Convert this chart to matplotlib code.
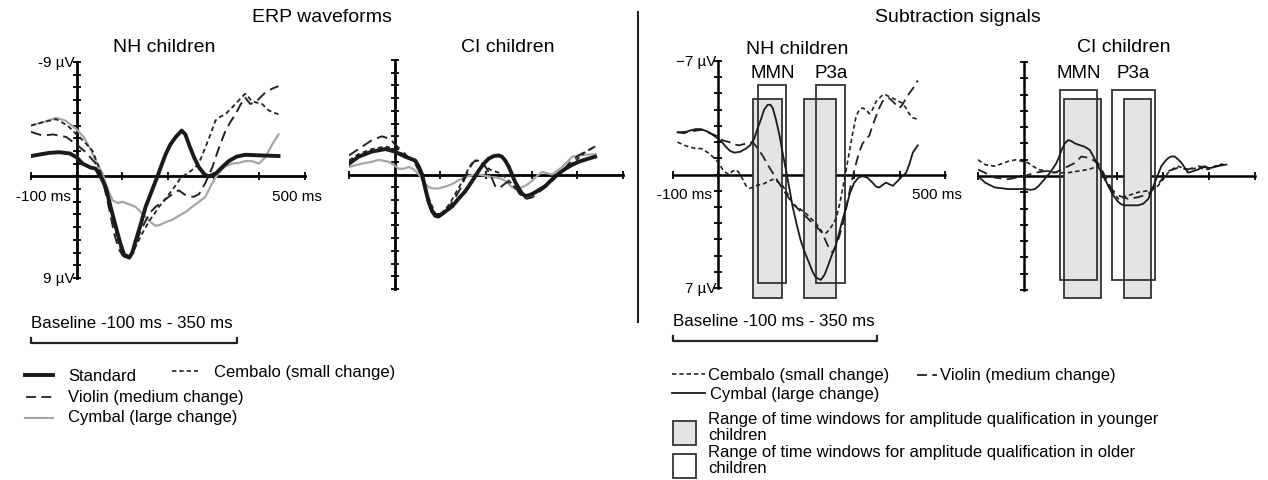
import matplotlib.pyplot as plt
from matplotlib.patches import Rectangle
from matplotlib.transforms import blended_transform_factory

plt.rcParams['font.family'] = ['Liberation Sans', 'DejaVu Sans']

# ---------------- data: time in ms, amplitude in µV (negative plotted up) ----------------
# ERP waveforms, NH children
nh_std_t = [-100, -60, -38, -15, 0, 13, 30, 42, 55, 64, 75, 86, 95, 104, 115, 122, 129, 140, 151, 165,
            177, 186, 195, 205, 217, 230, 238, 246, 257, 268, 280, 289, 304, 318, 333, 350, 369, 400, 442]
nh_std_v = [-1.6, -1.85, -1.9, -1.8, -1.5, -1.0, -0.7, -0.6, 0.2, 0.9, 2.5, 4.0, 5.2, 6.2, 6.4, 6.0, 5.1, 3.8,
            2.4, 1.1, 0.0, -0.9, -1.75, -2.5, -3.1, -3.6, -3.3, -2.5, -1.5, -0.7, -0.15, 0.0, -0.2, -0.7,
            -1.2, -1.55, -1.7, -1.65, -1.6]
nh_vio_t = [-100, -74, -52, -23, 0, 20, 42, 55, 64, 75, 82, 92, 100, 111, 120, 129, 140, 151, 162, 173, 187,
            202, 213, 224, 235, 246, 257, 268, 282, 297, 311, 326, 337, 348, 358, 369, 380, 390, 399, 413,
            428, 442]
nh_vio_v = [-3.5, -3.2, -3.3, -3.1, -2.5, -1.9, -1.0, 0.0, 1.4, 3.2, 4.5, 5.7, 6.2, 6.5, 6.1, 5.3, 4.3, 3.5,
            2.8, 2.4, 2.0, 1.6, 1.3, 1.1, 1.4, 1.6, 1.6, 1.4, 0.5, -0.7, -2.2, -3.6, -4.3, -4.9, -5.6, -6.2,
            -5.7, -5.8, -6.1, -6.6, -6.9, -7.1]
nh_cem_t = [-100, -70, -45, -20, 0, 20, 35, 50, 64, 75, 86, 97, 104, 119, 131, 142, 159, 173, 180, 190, 202,
            215, 228, 245, 260, 272, 282, 293, 304, 315, 326, 337, 348, 358, 369, 377, 384, 395, 406, 420,
            432, 442]
nh_cem_v = [-4.0, -4.3, -4.5, -4.0, -3.3, -2.6, -2.0, -0.6, 0.9, 2.6, 4.4, 5.8, 6.1, 6.3, 5.4, 4.6, 3.5,
            2.8, 2.4, 2.0, 1.4, 0.8, 0.1, -0.3, -0.7, -1.4, -2.3, -3.3, -4.4, -4.7, -4.9, -5.3, -5.7, -6.1,
            -6.5, -6.2, -5.9, -5.8, -5.7, -5.2, -5.0, -4.9]
nh_cym_t = [-100, -70, -45, -25, 0, 15, 28, 42, 57, 68, 79, 90, 100, 115, 129, 140, 151, 162, 173, 184, 195,
            210, 224, 239, 253, 268, 282, 293, 304, 315, 326, 340, 355, 369, 384, 399, 413, 428, 442]
nh_cym_v = [-4.0, -4.3, -4.6, -4.4, -3.7, -3.1, -2.3, -1.2, -0.2, 1.0, 1.9, 2.1, 2.0, 2.2, 2.4, 2.8, 3.2,
            3.6, 3.9, 3.8, 3.6, 3.4, 3.1, 2.8, 2.4, 2.0, 1.6, 0.8, 0.1, -0.4, -0.8, -1.0, -1.05, -1.2, -1.2,
            -1.0, -1.5, -2.5, -3.3]

# ERP waveforms, CI children
ci_std_t = [-100, -79, -50, -20, 0, 23, 45, 53, 60, 67, 74, 82, 89, 96, 104, 115, 126, 140, 155, 170, 184,
            195, 206, 217, 228, 235, 242, 250, 257, 264, 272, 279, 286, 297, 308, 319, 330, 340, 350, 362,
            374, 388, 403, 420, 439]
ci_std_v = [-0.85, -1.4, -1.8, -2.0, -1.8, -1.4, -1.1, -0.6, 0.0, 1.1, 2.1, 2.9, 3.25, 3.3, 3.1, 2.8, 2.5,
            1.9, 1.3, 0.5, -0.3, -0.85, -1.25, -1.45, -1.5, -1.4, -1.1, -0.6, 0.0, 0.6, 1.1, 1.5, 1.7, 1.6,
            1.4, 1.15, 0.9, 0.55, 0.2, -0.15, -0.45, -0.75, -1.0, -1.2, -1.4]
ci_vio_t = [-100, -79, -50, -28, -10, 0, 23, 45, 60, 67, 74, 89, 100, 111, 122, 133, 144, 155, 164, 173,
            182, 191, 199, 206, 213, 220, 228, 235, 246, 257, 268, 279, 290, 301, 315, 330, 345, 359, 374,
            388, 403, 418, 429, 439]
ci_vio_v = [-1.5, -2.0, -2.7, -3.0, -2.8, -2.4, -1.6, -0.85, 0.2, 1.3, 2.3, 3.1, 3.1, 2.9, 2.4, 1.8, 1.1,
            0.2, -0.5, -1.0, -1.1, -1.0, -0.6, -0.2, 0.3, 0.9, 1.1, 0.9, 0.6, 0.7, 1.2, 1.8, 1.9, 1.8, 1.4,
            1.0, 0.5, 0.0, -0.55, -1.1, -1.5, -1.8, -2.0, -2.2]
ci_cem_t = [-100, -79, -50, -20, 0, 23, 45, 60, 74, 89, 100, 111, 122, 133, 144, 155, 164, 173, 182, 191,
            202, 213, 228, 242, 257, 268, 279, 290, 301, 315, 330, 345, 359, 374, 388, 403, 418, 429, 439]
ci_cem_v = [-1.1, -1.6, -2.0, -2.2, -2.0, -1.5, -1.0, -0.1, 1.8, 3.1, 3.1, 2.75, 2.2, 1.5, 0.8, 0.0, -0.6,
            -1.1, -1.1, -0.85, -0.55, -0.3, -0.15, 0.2, 0.75, 1.3, 1.7, 1.7, 1.5, 1.2, 0.9, 0.5, 0.0, -0.45,
            -0.85, -1.3, -1.8, -2.0, -2.2]
ci_cym_t = [-100, -72, -50, -35, -13, 0, 9, 20, 31, 42, 53, 64, 74, 85, 96, 111, 126, 140, 155, 170, 184,
            199, 213, 224, 235, 246, 257, 268, 279, 290, 301, 312, 323, 334, 345, 356, 367, 378, 389, 403,
            418, 439]
ci_cym_v = [-0.6, -0.85, -1.0, -1.15, -1.0, -0.7, -0.45, -0.45, -0.6, -0.4, 0.0, 0.6, 1.0, 1.1, 1.1, 0.95,
            0.75, 0.45, 0.2, 0.05, 0.0, 0.1, 0.2, 0.25, 0.35, 0.6, 1.0, 1.1, 1.0, 0.8, 0.5, 0.1, -0.2, -0.1,
            0.0, -0.3, -0.6, -1.0, -1.4, -1.5, -1.55, -1.6]

# Subtraction signals, NH children
snh_cym_t = [-90, -75, -64, -50, -38, -20, -5, 8, 17, 26, 35, 48, 61, 70, 79, 86, 94, 101, 109, 115, 120,
             127, 135, 142, 149, 157, 164, 173, 182, 192, 201, 208, 215, 226, 234, 241, 250, 260, 271, 282,
             291, 300, 309, 318, 329, 340, 348, 355, 362, 370, 377, 385, 392, 399, 406, 414, 421, 429, 440]
snh_cym_v = [-2.6, -2.55, -2.7, -2.8, -2.8, -2.6, -2.3, -2.0, -1.7, -1.45, -1.35, -1.4, -1.6, -1.8, -2.2,
             -2.8, -3.4, -4.0, -4.3, -4.3, -4.1, -3.4, -2.4, -1.3, -0.3, 0.9, 2.0, 3.1, 4.1, 4.9, 5.5, 6.0,
             6.35, 6.5, 6.2, 5.7, 5.0, 4.3, 3.1, 2.0, 1.1, 0.5, 0.2, 0.1, 0.2, 0.5, 0.75, 0.8, 0.65, 0.5,
             0.6, 0.7, 0.5, 0.3, 0.1, -0.1, -0.6, -1.35, -1.8]
snh_vio_t = [-90, -64, -38, -5, 10, 24, 35, 46, 60, 76, 87, 98, 109, 120, 131, 142, 153, 164, 175, 186, 197,
             208, 219, 229, 237, 245, 252, 260, 267, 275, 282, 289, 296, 304, 311, 318, 326, 333, 340, 348,
             355, 362, 370, 377, 385, 392, 399, 406, 414, 421, 429, 440]
snh_vio_v = [-2.6, -2.65, -2.75, -2.4, -2.1, -2.0, -1.85, -1.8, -1.9, -2.0, -1.6, -1.15, -0.6, -0.1, 0.4,
             0.9, 1.35, 1.8, 2.1, 2.4, 2.7, 3.0, 3.3, 3.6, 4.1, 4.6, 4.8, 4.4, 3.8, 3.0, 2.1, 1.1, 0.2, -0.7,
             -1.4, -1.9, -2.2, -2.4, -3.0, -3.6, -4.1, -4.5, -4.7, -4.7, -4.5, -4.3, -4.1, -4.3, -4.7, -5.0,
             -5.3, -5.8]
snh_cem_t = [-90, -75, -64, -50, -38, -20, -5, 3, 10, 17, 24, 31, 39, 46, 54, 61, 68, 76, 87, 98, 109, 120,
             131, 142, 153, 164, 179, 193, 204, 215, 223, 230, 238, 245, 252, 260, 267, 274, 282, 289, 296,
             304, 311, 318, 326, 333, 340, 348, 355, 362, 370, 377, 385, 392, 399, 406, 414, 421, 429, 440]
snh_cem_v = [-2.0, -1.8, -1.7, -1.6, -1.6, -1.3, -0.9, -0.6, -0.3, -0.1, 0.0, -0.2, -0.3, -0.1, 0.3, 0.7,
             0.85, 0.8, 0.65, 0.6, 0.45, 0.3, 0.45, 0.7, 1.2, 1.8, 2.1, 2.4, 2.7, 3.0, 3.3, 3.6, 3.6, 3.4,
             3.1, 2.7, 1.9, 0.9, -0.3, -1.4, -2.5, -3.6, -4.0, -4.1, -4.0, -3.75, -4.0, -4.5, -4.7, -4.9,
             -4.9, -4.8, -4.7, -4.6, -4.5, -4.4, -4.1, -3.75, -3.5, -3.4]

# Subtraction signals, CI children
sci_cym_t = [-100, -85, -64, -35, 0, 15, 23, 30, 38, 47, 56, 63, 70, 76, 81, 88, 95, 102, 110, 120, 131,
             142, 150, 155, 160, 168, 175, 182, 189, 197, 204, 211, 218, 233, 247, 258, 269, 276, 283, 290,
             297, 305, 312, 319, 326, 334, 341, 348, 355, 366, 377, 384, 391, 398, 406, 416, 427, 438]
sci_cym_v = [0.0, 0.4, 0.7, 0.8, 0.8, 0.85, 0.8, 0.65, 0.4, 0.1, -0.2, -0.5, -0.8, -1.2, -1.6, -2.0, -2.2,
             -2.15, -2.0, -1.9, -1.8, -1.6, -1.2, -0.9, -0.6, -0.2, 0.2, 0.6, 1.0, 1.35, 1.6, 1.75, 1.8, 1.8,
             1.8, 1.7, 1.4, 0.9, 0.4, -0.1, -0.6, -0.9, -1.1, -1.2, -1.2, -1.0, -0.8, -0.5, -0.2, -0.3, -0.4,
             -0.55, -0.6, -0.5, -0.5, -0.6, -0.65, -0.7]
sci_cem_t = [-100, -85, -64, -35, -17, 9, 30, 52, 74, 95, 117, 139, 160, 171, 182, 193, 204, 215, 225, 247,
             269, 290, 301, 312, 323, 333, 344, 355, 377, 399, 420, 434]
sci_cem_v = [-1.0, -0.7, -0.6, -0.9, -1.0, -0.8, -0.4, -0.3, -0.2, -0.2, -0.3, -0.4, -0.6, 0.0, 0.6, 1.0,
             1.4, 1.3, 1.2, 1.0, 0.9, 0.6, 0.2, -0.2, -0.45, -0.6, -0.5, -0.4, -0.5, -0.4, -0.7, -0.7]
sci_vio_t = [-100, -85, -64, -35, 1, 23, 45, 66, 88, 110, 124, 142, 160, 168, 175, 182, 189, 204, 225, 247,
             269, 290, 301, 312, 333, 355, 377, 399, 420, 434]
sci_vio_v = [-0.4, -0.2, 0.1, 0.2, 0.0, -0.2, -0.3, -0.2, -0.5, -0.8, -1.2, -1.1, -0.8, -0.4, 0.0, 0.4, 0.8,
             1.2, 1.4, 1.3, 1.1, 0.5, 0.1, -0.3, -0.5, -0.4, -0.6, -0.5, -0.6, -0.8]

# time windows for amplitude quantification (ms)
snh_young_win = [(77, 141), (190, 260)]
snh_old_win = [(88, 150), (216, 280)]
sci_young_win = [(87, 167), (216, 275)]
sci_old_win = [(78, 158), (190, 284)]
baseline_win = (-100, 350)

# ---------------- figure ----------------
W, H = 1268, 481
fig = plt.figure(figsize=(W / 100, H / 100), dpi=100)
ov = fig.add_axes([0, 0, 1, 1])
ov.set_xlim(0, W)
ov.set_ylim(H, 0)
ov.axis('off')


def panel(l, t, r, b, ylo, yhi, axis_lw):
    ax = fig.add_axes([l / W, 1 - b / H, (r - l) / W, (b - t) / H])
    ax.set_xlim(-100, 500)
    ax.set_ylim(yhi, ylo)
    ax.patch.set_alpha(0)
    ax.spines['top'].set_visible(False)
    ax.spines['right'].set_visible(False)
    for s in ('left', 'bottom'):
        ax.spines[s].set_position(('data', 0))
        ax.spines[s].set_linewidth(axis_lw)
        ax.spines[s].set_zorder(1)
    ax.set_xticks(range(-100, 501, 100))
    ax.set_yticks(range(ylo, yhi + 1))
    ax.tick_params(direction='inout', length=6, width=1.3, labelbottom=False, labelleft=False)
    return ax


def labels(ax, top, bot):
    kw = dict(textcoords='offset pixels', fontsize=11, annotation_clip=False)
    ax.annotate(top, (0, ax.get_ylim()[1]), xytext=(-2, 0), ha='right', va='center', **kw)
    ax.annotate(bot, (0, ax.get_ylim()[0]), xytext=(-2, 0), ha='right', va='center', **kw)
    ax.annotate('-100 ms', (0, 0), xytext=(-6, -20), ha='right', va='center', **kw)
    ax.annotate('500 ms', (500, 0), xytext=(-8, -20), ha='center', va='center', **kw)


def windows(ax, young, old, ytop_y, ybot_y, ytop_o, ybot_o):
    for t0, t1 in young:
        ax.add_patch(Rectangle((t0, ytop_y), t1 - t0, ybot_y - ytop_y, facecolor='#e4e4e4',
                               edgecolor='#333333', lw=1.3, clip_on=False, zorder=2))
    for t0, t1 in old:
        ax.add_patch(Rectangle((t0, ytop_o), t1 - t0, ybot_o - ytop_o, facecolor='none',
                               edgecolor='#333333', lw=1.3, clip_on=False, zorder=3))


DASH_S = (0, (2.6, 1.8))
DASH_L = (0, (5.5, 3.0))
FS_LEG = 12
FS_TTL = 14

# ERP, NH
a1 = panel(31, 63, 305, 279, -9, 8, 2.0)
a1.plot(nh_cym_t, nh_cym_v, color='#a6a6a6', lw=1.6, zorder=4)
a1.plot(nh_cem_t, nh_cem_v, color='#222222', lw=1.3, ls=DASH_S, zorder=5)
a1.plot(nh_vio_t, nh_vio_v, color='#222222', lw=1.4, ls=DASH_L, zorder=5)
a1.plot(nh_std_t, nh_std_v, color='#1a1a1a', lw=2.8, zorder=6)
labels(a1, '-9 µV', '9 µV')

# ERP, CI
a2 = panel(349, 61, 623, 290, -9, 9, 2.0)
a2.plot(ci_cym_t, ci_cym_v, color='#a6a6a6', lw=1.6, zorder=4)
a2.plot(ci_cem_t, ci_cem_v, color='#222222', lw=1.3, ls=DASH_S, zorder=5)
a2.plot(ci_vio_t, ci_vio_v, color='#222222', lw=1.4, ls=DASH_L, zorder=5)
a2.plot(ci_std_t, ci_std_v, color='#1a1a1a', lw=2.8, zorder=6)

# Subtraction, NH
a3 = panel(673, 62, 945, 289, -7, 7, 1.8)
windows(a3, snh_young_win, snh_old_win, -4.65, 7.6, -5.5, 6.7)
a3.plot(snh_cem_t, snh_cem_v, color='#222222', lw=1.2, ls=DASH_S, zorder=5)
a3.plot(snh_vio_t, snh_vio_v, color='#222222', lw=1.3, ls=DASH_L, zorder=5)
a3.plot(snh_cym_t, snh_cym_v, color='#1a1a1a', lw=1.3, zorder=6)
labels(a3, '\u22127 µV', '7 µV')

# Subtraction, CI
a4 = panel(978, 63, 1255, 291, -7, 7, 1.8)
windows(a4, sci_young_win, sci_old_win, -4.7, 7.5, -5.3, 6.4)
a4.plot(sci_cem_t, sci_cem_v, color='#222222', lw=1.2, ls=DASH_S, zorder=5)
a4.plot(sci_vio_t, sci_vio_v, color='#222222', lw=1.3, ls=DASH_L, zorder=5)
a4.plot(sci_cym_t, sci_cym_v, color='#1a1a1a', lw=1.3, zorder=6)

# component labels centred on the older-children windows
for ax, win in ((a3, snh_old_win), (a4, sci_old_win)):
    tr = blended_transform_factory(ax.transData, ov.transData)
    for (t0, t1), name in zip(win, ('MMN', 'P3a')):
        ax.text((t0 + t1) / 2, 74, name, transform=tr, ha='center', va='center', fontsize=13.5)

# baseline brackets
for ax, ytxt in ((a1, 324), (a3, 322)):
    tr = blended_transform_factory(ax.transData, ov.transData)
    b0, b1 = baseline_win
    yb = ytxt + 20
    ax.plot([b0, b0, b1, b1], [yb - 5, yb, yb, yb - 5], color='#222222', lw=1.6,
            transform=tr, clip_on=False)
    ax.text(b0, ytxt, 'Baseline -100 ms - 350 ms', transform=tr, ha='left', va='center', fontsize=12.2)

# titles and separator
ov.text(322, 18, 'ERP waveforms', ha='center', va='center', fontsize=14)
ov.text(958, 18, 'Subtraction signals', ha='center', va='center', fontsize=14)
ov.text(164, 48, 'NH children', ha='center', va='center', fontsize=FS_TTL)
ov.text(508, 48, 'CI children', ha='center', va='center', fontsize=FS_TTL)
ov.text(797, 49, 'NH children', ha='center', va='center', fontsize=FS_TTL)
ov.text(1124, 48, 'CI children', ha='center', va='center', fontsize=FS_TTL)
ov.plot([638, 638], [13, 323], color='#222222', lw=1.5)

# legend, left
ov.plot([25, 53], [376, 376], color='#1a1a1a', lw=2.8)
ov.text(68, 377, 'Standard', va='center', fontsize=FS_LEG)
ov.plot([172, 198], [372, 372], color='#222222', lw=1.2, ls=DASH_S)
ov.text(214, 373, 'Cembalo (small change)', va='center', fontsize=FS_LEG)
ov.plot([26, 52], [398, 398], color='#222222', lw=1.3, ls=DASH_L)
ov.text(68, 398, 'Violin (medium change)', va='center', fontsize=FS_LEG)
ov.plot([25, 53], [419, 419], color='#a6a6a6', lw=1.6)
ov.text(68, 418, 'Cymbal (large change)', va='center', fontsize=FS_LEG)

# legend, right
ov.plot([672, 705], [375, 375], color='#222222', lw=1.2, ls=DASH_S)
ov.text(708, 376, 'Cembalo (small change)', va='center', fontsize=FS_LEG)
ov.plot([917, 937], [376, 376], color='#222222', lw=1.3, ls=DASH_L)
ov.text(940, 376, 'Violin (medium change)', va='center', fontsize=FS_LEG)
ov.plot([672, 705], [394, 394], color='#1a1a1a', lw=1.3)
ov.text(710, 395, 'Cymbal (large change)', va='center', fontsize=FS_LEG)
ov.add_patch(Rectangle((673, 422), 23, 24, facecolor='#e4e4e4', edgecolor='#333333', lw=1.3))
ov.text(708, 420, 'Range of time windows for amplitude qualification in younger', va='center',
        fontsize=FS_LEG)
ov.text(708, 436, 'children', va='center', fontsize=FS_LEG)
ov.add_patch(Rectangle((673, 455), 23, 24, facecolor='white', edgecolor='#333333', lw=1.3))
ov.text(708, 453, 'Range of time windows for amplitude qualification in older', va='center',
        fontsize=FS_LEG)
ov.text(708, 469, 'children', va='center', fontsize=FS_LEG)

fig.savefig('out.png', dpi=100)
